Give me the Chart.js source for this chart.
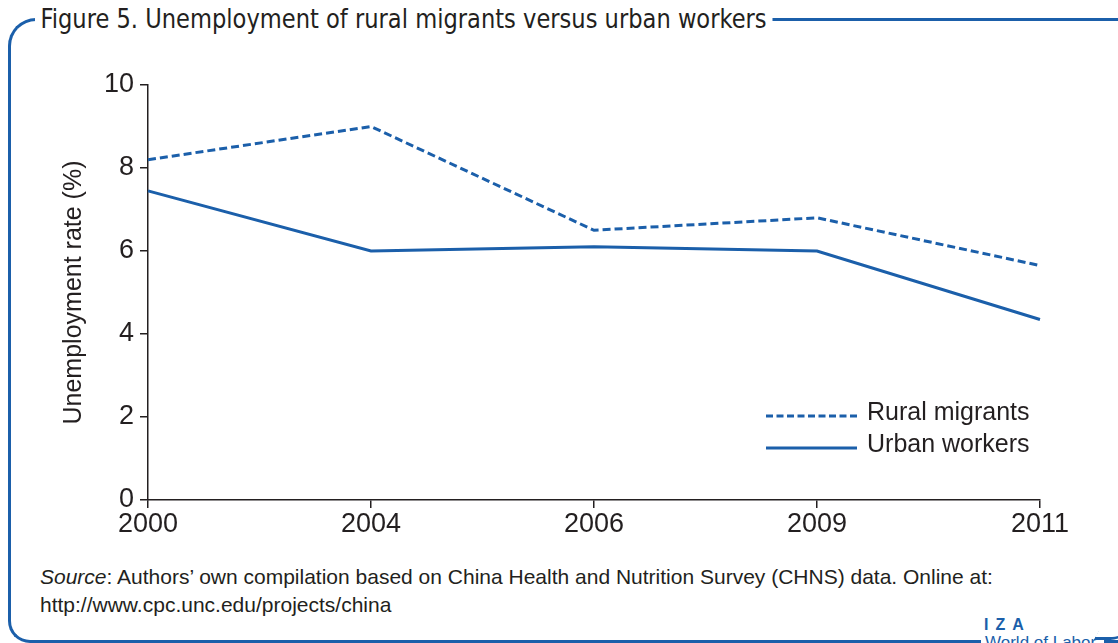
<!DOCTYPE html>
<html>
<head>
<meta charset="utf-8">
<script src="https://cdn.jsdelivr.net/npm/chart.js@4"></script>
<style>
  html, body { margin: 0; padding: 0; background: #fff; }
  body { width: 1118px; height: 643px; position: relative; overflow: hidden; font-family: "Liberation Sans", Arial, sans-serif; color: #231f20; }
  #frame { position: absolute; left: 8px; top: 18px; width: 1200px; height: 619px;
    border-left: 3px solid #1b5faa; border-top: 3px solid #1b5faa; border-bottom: 3px solid #1b5faa;
    border-radius: 28px 0 0 22px; }
  #title { position: absolute; left: 35px; top: 3px; padding: 0 6px; background: #fff;
    font-family: "Liberation Sans Narrow", "DejaVu Sans Condensed", sans-serif; font-size: 27px; white-space: nowrap;
    transform: scaleX(0.93); transform-origin: left center; }
  #source { position: absolute; left: 40px; top: 563px; font-size: 21px; line-height: 28px; }
  #iza { position: absolute; left: 984px; top: 616px; font-weight: bold; font-size: 16px; color: #1b5faa; letter-spacing: 7px; }
  #wol { position: absolute; left: 981px; top: 633px; width: 115px; padding: 0 4px; background: #fff; font-size: 17px; color: #1b5faa; white-space: nowrap; }
  #hook { position: absolute; left: 1098px; top: 624px; width: 30px; height: 13px;
    border-bottom: 3px solid #1b5faa; border-right: 3px solid #1b5faa; border-radius: 0 0 18px 0; transform: skewX(-30deg); }
  canvas { position: absolute; left: 0; top: 0; }
</style>
</head>
<body>
<div id="frame"></div>
<div id="title">Figure 5. Unemployment of rural migrants versus urban workers</div>
<div id="source"><i>Source</i>: Authors’ own compilation based on China Health and Nutrition Survey (CHNS) data. Online at:<br>http://www.cpc.unc.edu/projects/china</div>
<div id="iza">IZA</div>
<div id="wol">World of Labor</div>
<div id="hook"></div>
<canvas id="myChart" width="1118" height="643"></canvas>
<script>
/* datos */
const years = ["2000", "2004", "2006", "2009", "2011"];
const rural = [8.2, 9.0, 6.5, 6.8, 5.65];
const urban = [7.45, 6.0, 6.1, 6.0, 4.35];
const yTicks = [0, 2, 4, 6, 8, 10];

const blue = "#1b5faa";
const ink = "#231f20";

/* leyenda dentro del area del grafico */
const insideLegend = {
  id: "insideLegend",
  afterDatasetsDraw(chart) {
    const c = chart.ctx;
    const a = chart.chartArea;
    const x0 = a.right - 274;
    let y = a.bottom - 84;
    chart.data.datasets.forEach((ds) => {
      c.save();
      c.strokeStyle = ds.borderColor;
      c.lineWidth = 3;
      c.setLineDash(ds.borderDash.length ? [7, 3.5] : []);
      c.beginPath();
      c.moveTo(x0, y);
      c.lineTo(x0 + 91, y);
      c.stroke();
      c.setLineDash([]);
      c.fillStyle = ink;
      c.font = "25px 'Liberation Sans', Arial, sans-serif";
      c.textBaseline = "middle";
      c.fillText(ds.label, x0 + 101, y - 3);
      c.restore();
      y += 32;
    });
  },
};

const ctx = document.getElementById("myChart").getContext("2d");
const myChart = new Chart(ctx, {
  type: "line",
  data: {
    labels: years,
    datasets: [
      {
        label: "Rural migrants",
        data: rural,
        borderColor: blue,
        borderWidth: 3,
        borderDash: [8, 4],
        pointRadius: 0,
        tension: 0,
        fill: false,
      },
      {
        label: "Urban workers",
        data: urban,
        borderColor: blue,
        borderWidth: 3,
        borderDash: [],
        pointRadius: 0,
        tension: 0,
        fill: false,
      },
    ],
  },
  options: {
    responsive: false,
    animation: false,
    layout: {
      padding: { left: 53, right: 78, top: 85, bottom: 103 },
    },
    plugins: {
      legend: { display: false },
      tooltip: { enabled: false },
    },
    scales: {
      x: {
        offset: false,
        grid: { drawOnChartArea: false, drawTicks: true, tickLength: 8, color: ink, lineWidth: 1.5 },
        border: { display: true, color: ink, width: 1.5 },
        ticks: { color: ink, padding: 0, font: { size: 27, family: "'Liberation Sans', Arial, sans-serif" }, maxRotation: 0 },
        afterFit(s) { s.height = 40; },
      },
      y: {
        min: 0,
        max: 10,
        afterBuildTicks(s) { s.ticks = yTicks.map((v) => ({ value: v })); },
        grid: { drawOnChartArea: false, drawTicks: true, tickLength: 8, color: ink, lineWidth: 1.5 },
        border: { display: true, color: ink, width: 1.5 },
        ticks: { color: ink, padding: 6, font: { size: 27, family: "'Liberation Sans', Arial, sans-serif" } },
        title: {
          display: true,
          text: "Unemployment rate (%)",
          color: ink,
          font: { size: 25, family: "'Liberation Sans', Arial, sans-serif" },
          padding: { top: 6, bottom: 4 },
        },
        afterFit(s) { s.width = 95; },
      },
    },
  },
  plugins: [insideLegend],
});
</script>
</body>
</html>
